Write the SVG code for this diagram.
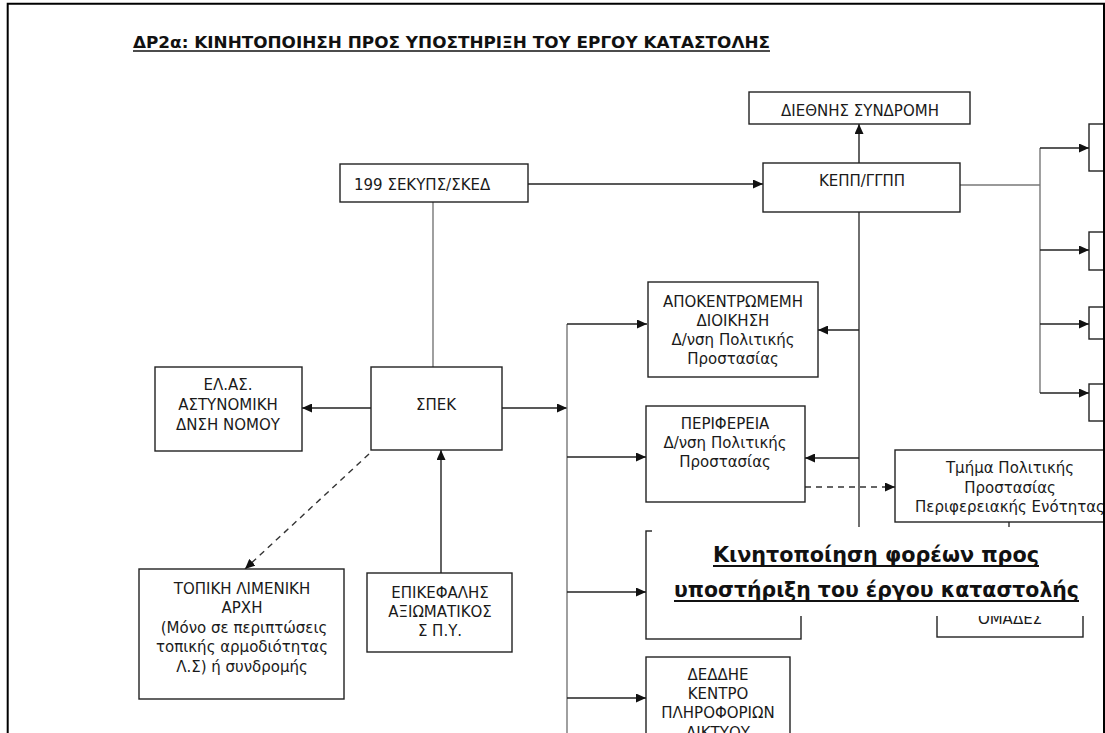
<svg xmlns="http://www.w3.org/2000/svg" width="1105" height="733" viewBox="0 0 1105 733">
  <defs>
    <marker id="ah" markerUnits="userSpaceOnUse" markerWidth="11" markerHeight="9" refX="10" refY="4.5" orient="auto">
      <path d="M0,0 L10,4.5 L0,9 z" fill="#111"/>
    </marker>
    <style>
      .box { fill: #fff; stroke: #222; stroke-width: 1.4; }
      .t { font-family: "DejaVu Sans", "Liberation Sans", sans-serif; font-size: 15px; fill: #1a1a1a; text-anchor: middle; }
      .ln { fill: none; stroke: #333; stroke-width: 1.4; }
      .lg { fill: none; stroke: #777; stroke-width: 1.4; }
      .ar { fill: none; stroke: #222; stroke-width: 1.4; marker-end: url(#ah); }
      .da { fill: none; stroke: #333; stroke-width: 1.4; stroke-dasharray: 6 5; marker-end: url(#ah); }
    </style>
  </defs>
  <rect width="1105" height="733" fill="#fff"/>

  <!-- title -->
  <g id="title">
    <text x="133" y="48" font-family="DejaVu Sans, Liberation Sans, sans-serif" font-weight="bold" font-size="15.5" fill="#111" textLength="637" lengthAdjust="spacingAndGlyphs">ΔΡ2α: ΚΙΝΗΤΟΠΟΙΗΣΗ ΠΡΟΣ ΥΠΟΣΤΗΡΙΞΗ ΤΟΥ ΕΡΓΟΥ ΚΑΤΑΣΤΟΛΗΣ</text>
    <line x1="133" y1="51" x2="770" y2="51" stroke="#111" stroke-width="1.5"/>
  </g>

  <!-- connectors -->
  <g id="connectors">
    <path class="ar" d="M528,184 H763"/>
    <path class="ar" d="M859,163 V124"/>
    <path class="lg" d="M433,202 V367"/>
    <path class="lg" d="M960,185 H1040"/>
    <path class="lg" d="M1040,148 V393"/>
    <path class="ar" d="M1040,148 H1089"/>
    <path class="ar" d="M1040,250 H1089"/>
    <path class="ar" d="M1040,324 H1089"/>
    <path class="ar" d="M1040,393 H1089"/>
    <path class="ln" d="M859,212 V560"/>
    <path class="ar" d="M859,330 H818"/>
    <path class="ar" d="M859,458 H805"/>
    <path class="ar" d="M371,408 H302"/>
    <path class="ar" d="M502,408 H567"/>
    <path class="lg" d="M567,324 V733"/>
    <path class="ar" d="M567,324 H647"/>
    <path class="ar" d="M567,457 H646"/>
    <path class="ar" d="M567,592 H646"/>
    <path class="ar" d="M567,698 H646"/>
    <path class="ar" d="M441,573 V450"/>
    <path class="da" d="M369,454 L245,569"/>
    <path class="da" d="M805,487 H895"/>
    <path class="ln" d="M1009,522 V560"/>
  </g>

  <g id="n199">
    <rect class="box" x="340" y="164" width="188" height="38"/>
    <text class="t" x="354" y="190" style="text-anchor:start">199 ΣΕΚΥΠΣ/ΣΚΕΔ</text>
  </g>
  <g id="diethnis">
    <rect class="box" x="749" y="92" width="221" height="32"/>
    <text class="t" x="860" y="116">ΔΙΕΘΝΗΣ ΣΥΝΔΡΟΜΗ</text>
  </g>
  <g id="kepp">
    <rect class="box" x="763" y="163" width="197" height="49"/>
    <text class="t" x="862" y="186">ΚΕΠΠ/ΓΓΠΠ</text>
  </g>
  <g id="right1"><rect class="box" x="1089" y="124" width="30" height="47"/></g>
  <g id="right2"><rect class="box" x="1089" y="232" width="30" height="38"/></g>
  <g id="right3"><rect class="box" x="1089" y="307" width="30" height="32"/></g>
  <g id="right4"><rect class="box" x="1089" y="384" width="30" height="37"/></g>

  <g id="apok">
    <rect class="box" x="648" y="282" width="170" height="95"/>
    <text class="t" x="733" y="307">ΑΠΟΚΕΝΤΡΩΜΕΜΗ</text>
    <text class="t" x="733" y="326">ΔΙΟΙΚΗΣΗ</text>
    <text class="t" x="733" y="345">Δ/νση Πολιτικής</text>
    <text class="t" x="733" y="364">Προστασίας</text>
  </g>
  <g id="perif">
    <rect class="box" x="646" y="406" width="159" height="96"/>
    <text class="t" x="725" y="429">ΠΕΡΙΦΕΡΕΙΑ</text>
    <text class="t" x="725" y="448">Δ/νση Πολιτικής</text>
    <text class="t" x="725" y="467">Προστασίας</text>
  </g>
  <g id="tmima">
    <rect class="box" x="895" y="450" width="215" height="72"/>
    <text class="t" x="1010" y="473">Τμήμα Πολιτικής</text>
    <text class="t" x="1010" y="493">Προστασίας</text>
    <text class="t" x="1010" y="512">Περιφερειακής Ενότητας</text>
  </g>
  <g id="elas">
    <rect class="box" x="155" y="367" width="147" height="84"/>
    <text class="t" x="228" y="390">ΕΛ.ΑΣ.</text>
    <text class="t" x="228" y="410">ΑΣΤΥΝΟΜΙΚΗ</text>
    <text class="t" x="228" y="430">ΔΝΣΗ ΝΟΜΟΥ</text>
  </g>
  <g id="spek">
    <rect class="box" x="371" y="367" width="131" height="83"/>
    <text class="t" x="436" y="410">ΣΠΕΚ</text>
  </g>
  <g id="topiki">
    <rect class="box" x="139" y="569" width="205" height="130"/>
    <text class="t" x="242" y="594">ΤΟΠΙΚΗ ΛΙΜΕΝΙΚΗ</text>
    <text class="t" x="242" y="613">ΑΡΧΗ</text>
    <text class="t" x="244" y="633">(Μόνο σε περιπτώσεις</text>
    <text class="t" x="242" y="652">τοπικής αρμοδιότητας</text>
    <text class="t" x="242" y="672">Λ.Σ) ή συνδρομής</text>
  </g>
  <g id="epikefalis">
    <rect class="box" x="367" y="573" width="145" height="79"/>
    <text class="t" x="440" y="598">ΕΠΙΚΕΦΑΛΗΣ</text>
    <text class="t" x="440" y="617">ΑΞΙΩΜΑΤΙΚΟΣ</text>
    <text class="t" x="440" y="636">Σ Π.Υ.</text>
  </g>
  <g id="hidden">
    <rect class="box" x="646" y="531" width="155" height="108"/>
  </g>
  <g id="omades">
    <rect class="box" x="937" y="560" width="146" height="77"/>
    <text class="t" x="1010" y="624">ΟΜΑΔΕΣ</text>
  </g>
  <g id="deddie">
    <rect class="box" x="646" y="657" width="144" height="100"/>
    <text class="t" x="718" y="680">ΔΕΔΔΗΕ</text>
    <text class="t" x="718" y="699">ΚΕΝΤΡΟ</text>
    <text class="t" x="718" y="718">ΠΛΗΡΟΦΟΡΙΩΝ</text>
    <text class="t" x="718" y="738">ΔΙΚΤΥΟΥ</text>
  </g>

  <!-- overlay caption -->
  <g id="caption">
    <rect x="652" y="527" width="452" height="89" fill="#fff"/>
    <text x="876" y="562" text-anchor="middle" font-family="DejaVu Sans, Liberation Sans, sans-serif" font-weight="bold" font-size="22" fill="#111" textLength="326" lengthAdjust="spacingAndGlyphs">Κινητοποίηση φορέων προς</text>
    <line x1="713" y1="566" x2="1039" y2="566" stroke="#111" stroke-width="2"/>
    <text x="876.5" y="597" text-anchor="middle" font-family="DejaVu Sans, Liberation Sans, sans-serif" font-weight="bold" font-size="22" fill="#111" textLength="405" lengthAdjust="spacingAndGlyphs">υποστήριξη του έργου καταστολής</text>
    <line x1="674" y1="601" x2="1079" y2="601" stroke="#111" stroke-width="2"/>
  </g>

  <!-- frame -->
  <path d="M7.7,733 V3.7 H1104 V733" fill="none" stroke="#000" stroke-width="2"/>
</svg>
